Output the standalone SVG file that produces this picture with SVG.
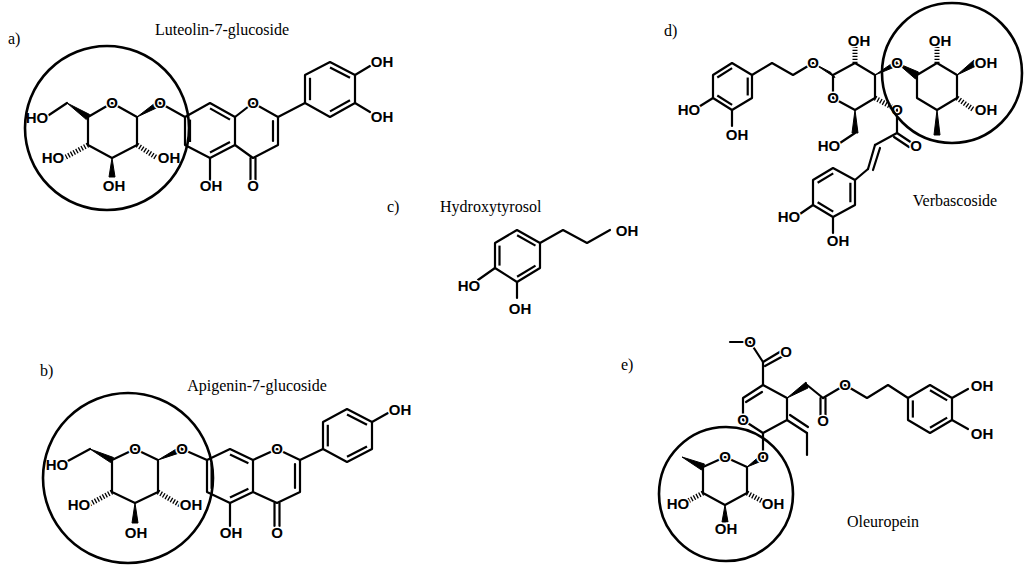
<svg xmlns="http://www.w3.org/2000/svg" width="1024" height="572" viewBox="0 0 1024 572">
<style>
.b{fill:none;stroke:#000;stroke-width:2.2;stroke-linejoin:round;stroke-linecap:round}
.i{fill:none;stroke:#000;stroke-width:2.2;vector-effect:non-scaling-stroke}
.h{stroke:#000;stroke-width:5;stroke-dasharray:1.3 1.7;fill:none}
.w{fill:#000;stroke:#000;stroke-width:1}
.c{fill:none;stroke:#000;stroke-width:2.6}
.at{font-family:"Liberation Sans",Arial,sans-serif;font-weight:bold;font-size:15px;text-anchor:middle;fill:#000;stroke:#fff;stroke-width:3;paint-order:stroke}
.lb{font-family:"Liberation Serif","Times New Roman",serif;font-size:16px;fill:#000}
</style>
<rect width="1024" height="572" fill="#fff"/>

<!-- a) Luteolin-7-glucoside -->
<g id="luteolin">
<text class="lb" x="8" y="44">a)</text>
<text class="lb" x="222" y="35" text-anchor="middle">Luteolin-7-glucoside</text>
<polygon class="b" points="88,117 112,103 137,117 137,145 112,158 88,145"/>
<polygon class="w" points="67,103 86.3,119.5 89.7,114.5"/>
<line class="b" x1="67" y1="103" x2="46" y2="117"/>
<polygon class="w" points="137,117 158.3,100.5 161.7,105.5"/>
<line class="h" x1="88" y1="145" x2="64" y2="158"/>
<line class="h" x1="137" y1="145" x2="157" y2="158"/>
<polygon class="w" points="112,158 109,177 115,177"/>
<line class="b" x1="160" y1="103" x2="185" y2="117"/>
<polygon class="b" points="185,117 210,103 235,117 235,145 210,158 185,145"/>
<g transform="translate(210,130) scale(0.8) translate(-210,-130)">
<line class="i" x1="185" y1="117" x2="185" y2="145"/><line class="i" x1="210" y1="103" x2="235" y2="117"/><line class="i" x1="235" y1="145" x2="210" y2="158"/>
</g>
<polyline class="b" points="235,117 253,103 278,117 278,145 253,158 235,145"/>
<line class="b" x1="273" y1="121" x2="273" y2="141"/>
<line class="b" x1="250.5" y1="158" x2="250.5" y2="180"/><line class="b" x1="255.5" y1="158" x2="255.5" y2="180"/>
<line class="b" x1="210" y1="158" x2="210" y2="180"/>
<line class="b" x1="278" y1="117" x2="305" y2="103"/>
<polygon class="b" points="305,103 305,75 330,62 355,75 355,103 330,117"/>
<g transform="translate(330,89) scale(0.8) translate(-330,-89)">
<line class="i" x1="305" y1="103" x2="305" y2="75"/><line class="i" x1="330" y1="62" x2="355" y2="75"/><line class="i" x1="355" y1="103" x2="330" y2="117"/>
</g>
<line class="b" x1="355" y1="75" x2="370" y2="66"/><line class="b" x1="355" y1="103" x2="370" y2="112"/>
<text class="at" x="112" y="108">O</text><text class="at" x="160" y="108">O</text>
<text class="at" x="37" y="123">HO</text><text class="at" x="53" y="163">HO</text>
<text class="at" x="169" y="163">OH</text><text class="at" x="114" y="191">OH</text>
<text class="at" x="253" y="108">O</text><text class="at" x="253" y="191">O</text><text class="at" x="211" y="191">OH</text>
<text class="at" x="382" y="67">OH</text><text class="at" x="382" y="122">OH</text>
<circle class="c" cx="107" cy="128" r="82"/>
</g>

<!-- b) Apigenin-7-glucoside -->
<g id="apigenin">
<text class="lb" x="40" y="376">b)</text>
<text class="lb" x="257" y="391" text-anchor="middle">Apigenin-7-glucoside</text>
<polygon class="b" points="112,460 135,449 158,460 158,492 135,503 112,492"/>
<polygon class="w" points="90,449 110.5,462.5 113.5,457.5"/>
<line class="b" x1="90" y1="449" x2="66" y2="462"/>
<polygon class="w" points="158,460 180.8,446.3 183.2,451.7"/>
<line class="h" x1="112" y1="492" x2="88" y2="505"/>
<line class="h" x1="158" y1="492" x2="180" y2="505"/>
<polygon class="w" points="135,503 132,523 138,523"/>
<line class="b" x1="182" y1="449" x2="207" y2="460"/>
<polygon class="b" points="207,460 230,449 253,460 253,492 230,503 207,492"/>
<g transform="translate(230,476) scale(0.8) translate(-230,-476)">
<line class="i" x1="207" y1="460" x2="207" y2="492"/><line class="i" x1="230" y1="449" x2="253" y2="460"/><line class="i" x1="253" y1="492" x2="230" y2="503"/>
</g>
<polyline class="b" points="253,460 277,449 300,460 300,492 277,503 253,492"/>
<line class="b" x1="295" y1="464" x2="295" y2="488"/>
<line class="b" x1="274.5" y1="503" x2="274.5" y2="526"/><line class="b" x1="279.5" y1="503" x2="279.5" y2="526"/>
<line class="b" x1="230" y1="503" x2="230" y2="526"/>
<line class="b" x1="300" y1="460" x2="323" y2="449"/>
<polygon class="b" points="323,449 323,422 347,409 372,422 372,449 347,462"/>
<g transform="translate(347,436) scale(0.8) translate(-347,-436)">
<line class="i" x1="323" y1="449" x2="323" y2="422"/><line class="i" x1="347" y1="409" x2="372" y2="422"/><line class="i" x1="372" y1="449" x2="347" y2="462"/>
</g>
<line class="b" x1="372" y1="422" x2="388" y2="413"/>
<text class="at" x="135" y="454">O</text><text class="at" x="182" y="454">O</text>
<text class="at" x="57" y="470">HO</text><text class="at" x="79" y="510">HO</text>
<text class="at" x="191" y="510">OH</text><text class="at" x="136" y="538">OH</text>
<text class="at" x="277" y="454">O</text><text class="at" x="277" y="538">O</text><text class="at" x="231" y="538">OH</text>
<text class="at" x="400" y="415">OH</text>
<circle class="c" cx="128" cy="478" r="85"/>
</g>

<!-- c) Hydroxytyrosol -->
<g id="hydroxytyrosol">
<text class="lb" x="387" y="212">c)</text>
<text class="lb" x="440" y="212">Hydroxytyrosol</text>
<polygon class="b" points="517,230 540,243 540,268 517,282 495,268 495,243"/>
<g transform="translate(517.5,256) scale(0.8) translate(-517.5,-256)">
<line class="i" x1="517" y1="230" x2="540" y2="243"/><line class="i" x1="540" y1="268" x2="517" y2="282"/><line class="i" x1="495" y1="268" x2="495" y2="243"/>
</g>
<polyline class="b" points="540,243 563,230 587,243 610,230"/>
<line class="b" x1="495" y1="268" x2="478" y2="280"/>
<line class="b" x1="517" y1="282" x2="517" y2="298"/>
<text class="at" x="627" y="236">OH</text>
<text class="at" x="469" y="291">HO</text>
<text class="at" x="520" y="314">OH</text>
</g>

<!-- d) Verbascoside -->
<g id="verbascoside">
<text class="lb" x="664" y="36">d)</text>
<text class="lb" x="955" y="206" text-anchor="middle">Verbascoside</text>
<polygon class="b" points="713,75 732,63 752,75 752,98 732,110 713,98"/>
<g transform="translate(732.5,86.5) scale(0.78) translate(-732.5,-86.5)">
<line class="i" x1="713" y1="75" x2="732" y2="63"/><line class="i" x1="752" y1="75" x2="752" y2="98"/><line class="i" x1="732" y1="110" x2="713" y2="98"/>
</g>
<polyline class="b" points="752,75 772,63 793,75 813,63"/>
<line class="b" x1="713" y1="98" x2="697" y2="108"/>
<line class="b" x1="732" y1="110" x2="732" y2="126"/>
<polygon class="w" points="813,63 831,72.5 835,77.5"/>
<polygon class="b" points="833,75 855,63 875,75 875,98 855,110 833,98"/>
<line class="h" x1="855" y1="63" x2="855" y2="47"/>
<polygon class="w" points="875,75 897,60 897,66"/>
<line class="h" x1="875" y1="98" x2="897" y2="110"/>
<polygon class="w" points="855,110 852,133 858,133"/>
<line class="b" x1="855" y1="133" x2="840" y2="143"/>
<line class="b" x1="897" y1="110" x2="897" y2="133"/>
<line class="b" x1="897" y1="133" x2="912" y2="143"/><line class="b" x1="894" y1="137" x2="909" y2="147"/>
<line class="b" x1="897" y1="133" x2="875" y2="145"/>
<line class="b" x1="875" y1="145" x2="868" y2="169"/><line class="b" x1="880" y1="148" x2="873" y2="170"/>
<line class="b" x1="868" y1="169" x2="855" y2="180"/>
<polygon class="b" points="855,180 855,205 833,217 813,205 813,180 833,168"/>
<g transform="translate(834,192.5) scale(0.78) translate(-834,-192.5)">
<line class="i" x1="833" y1="168" x2="813" y2="180"/><line class="i" x1="855" y1="180" x2="855" y2="205"/><line class="i" x1="833" y1="217" x2="813" y2="205"/>
</g>
<line class="b" x1="813" y1="205" x2="797" y2="216"/>
<line class="b" x1="833" y1="217" x2="833" y2="233"/>
<polygon class="w" points="897,63 915.5,79 918.5,72"/>
<polygon class="b" points="917,75 937,63 957,75 957,98 937,110 917,98"/>
<line class="h" x1="937" y1="63" x2="937" y2="47"/>
<polygon class="w" points="957,75 974,60 976,66"/>
<line class="h" x1="957" y1="98" x2="974" y2="110"/>
<polygon class="w" points="937,110 934,135 940,135"/>
<text class="at" x="813" y="68">O</text><text class="at" x="833" y="103">O</text>
<text class="at" x="859" y="46">OH</text><text class="at" x="897" y="68">O</text><text class="at" x="897" y="115">O</text>
<text class="at" x="829" y="151">HO</text><text class="at" x="916" y="151">O</text>
<text class="at" x="689" y="115">HO</text><text class="at" x="737" y="140">OH</text>
<text class="at" x="789" y="222">HO</text><text class="at" x="838" y="246">OH</text>
<text class="at" x="940" y="46">OH</text><text class="at" x="986" y="68">OH</text><text class="at" x="986" y="115">OH</text>
<circle class="c" cx="952" cy="73" r="70"/>
</g>

<!-- e) Oleuropein -->
<g id="oleuropein">
<text class="lb" x="621" y="370">e)</text>
<text class="lb" x="883" y="527" text-anchor="middle">Oleuropein</text>
<line class="b" x1="730" y1="342" x2="750" y2="342"/>
<line class="b" x1="750" y1="342" x2="763" y2="362"/>
<line class="b" x1="763" y1="362" x2="783" y2="350"/><line class="b" x1="765" y1="366" x2="785" y2="355"/>
<line class="b" x1="763" y1="362" x2="763" y2="385"/>
<polyline class="b" points="763,385 787,398 787,420 763,433 743,420 743,398 763,385"/>
<line class="b" x1="746" y1="402" x2="762" y2="392"/>
<polygon class="w" points="787,398 806,382 808,388"/>
<line class="b" x1="807" y1="385" x2="823" y2="398"/>
<line class="b" x1="820.5" y1="398" x2="820.5" y2="418"/><line class="b" x1="825.5" y1="398" x2="825.5" y2="418"/>
<polyline class="b" points="823,398 845,385 867,398 888,385 908,398"/>
<line class="b" x1="787" y1="420" x2="807" y2="433"/><line class="b" x1="790" y1="415" x2="808" y2="427"/>
<line class="b" x1="807" y1="433" x2="807" y2="455"/>
<polygon class="b" points="908,398 908,420 930,433 952,420 952,398 930,385"/>
<g transform="translate(930,409) scale(0.78) translate(-930,-409)">
<line class="i" x1="908" y1="398" x2="908" y2="420"/><line class="i" x1="930" y1="433" x2="952" y2="420"/><line class="i" x1="952" y1="398" x2="930" y2="385"/>
</g>
<line class="b" x1="952" y1="398" x2="968" y2="389"/><line class="b" x1="952" y1="420" x2="968" y2="429"/>
<line class="b" x1="763" y1="433" x2="763" y2="457"/>
<polygon class="w" points="747,467 762,454 764,460"/>
<polygon class="b" points="747,467 725,457 703,467 703,493 725,505 747,493"/>
<polygon class="w" points="682,457 701.5,470 704.5,464"/>
<line class="h" x1="703" y1="493" x2="688" y2="501"/>
<line class="h" x1="747" y1="493" x2="762" y2="501"/>
<polygon class="w" points="725,505 722,522 728,522"/>
<text class="at" x="750" y="347">O</text><text class="at" x="786" y="357">O</text>
<text class="at" x="743" y="425">O</text><text class="at" x="823" y="426">O</text><text class="at" x="845" y="390">O</text>
<text class="at" x="982" y="391">OH</text><text class="at" x="982" y="439">OH</text>
<text class="at" x="763" y="462">O</text><text class="at" x="725" y="462">O</text>
<text class="at" x="678" y="509">HO</text><text class="at" x="773" y="509">OH</text><text class="at" x="726" y="534">OH</text>
<circle class="c" cx="726" cy="494" r="67"/>
</g>
</svg>
